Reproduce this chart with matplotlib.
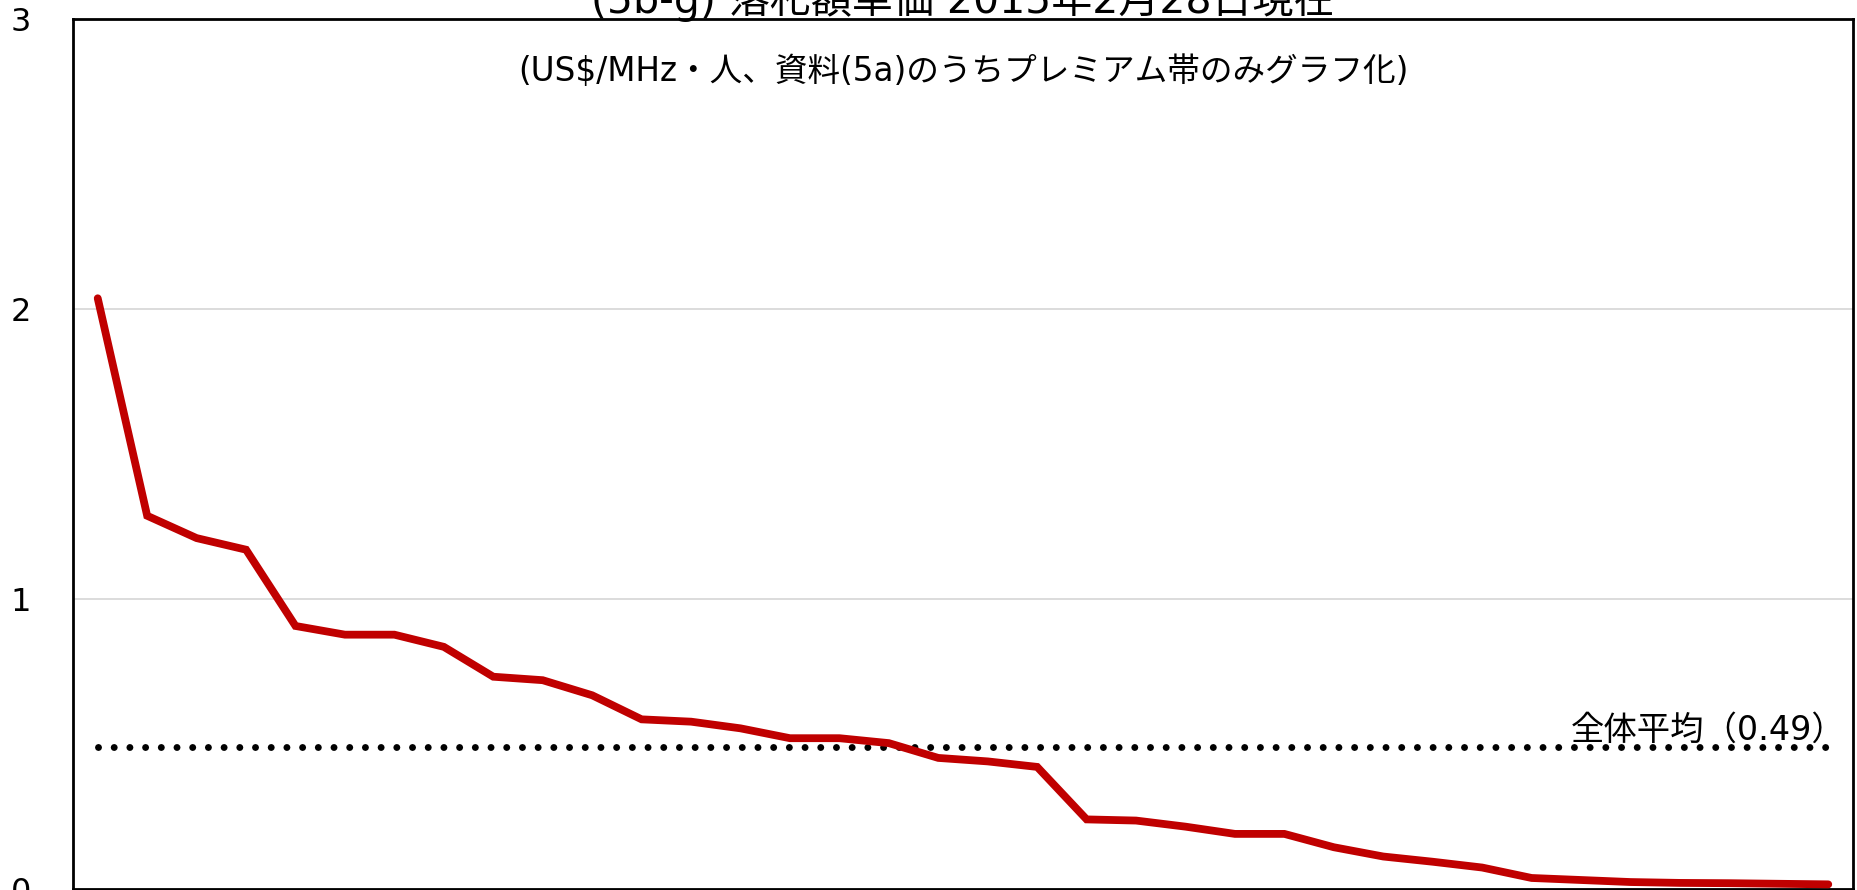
import matplotlib
matplotlib.use("Agg")
import matplotlib.pyplot as plt

# ---- data ----
ranks = list(range(1, 37))
unit_price = [2.037, 1.287, 1.210, 1.170, 0.907, 0.877, 0.877, 0.835, 0.732, 0.720,
              0.668, 0.585, 0.577, 0.554, 0.520, 0.520, 0.503, 0.452, 0.440, 0.421,
              0.240, 0.236, 0.215, 0.190, 0.190, 0.144, 0.112, 0.094, 0.074, 0.038,
              0.031, 0.024, 0.021, 0.020, 0.018, 0.016]
overall_avg = 0.49
y_ticks = [0, 1, 2, 3]
title = "(5b-g) 落札額単価 2015年2月28日現在"
subtitle = "(US$/MHz・人、資料(5a)のうちプレミアム帯のみグラフ化)"
avg_label = "全体平均（0.49）"

FAM = ['DejaVu Sans', 'Noto Sans CJK JP']
plt.rcParams['font.family'] = FAM

W, H = 1857, 890
fig = plt.figure(figsize=(W / 100, H / 100), dpi=100)
left, right, top, bottom = 73, 1853, 19, 889
ax = fig.add_axes([left / W, 1 - bottom / H, (right - left) / W, (bottom - top) / H])

x = list(range(len(unit_price)))
ax.plot(x, unit_price, color='#C00000', lw=5.6, solid_capstyle='round',
        solid_joinstyle='miter', zorder=3)
ax.plot([x[0], x[-1]], [overall_avg, overall_avg], color='black', lw=5.0,
        linestyle=(0, (0.001, 2.26)), dash_capstyle='round', zorder=2)

ax.set_xlim(-0.5, len(unit_price) - 0.5)
ax.set_ylim(0, 3)
ax.set_yticks(y_ticks)
ax.set_yticklabels([str(t) for t in y_ticks])
ax.set_xticks([])
ax.tick_params(axis='y', length=0, pad=30, labelsize=23)
ax.grid(axis='y', color='#d9d9d9', lw=1.3, zorder=0)
ax.set_axisbelow(True)
for s in ax.spines.values():
    s.set_color('black')
    s.set_linewidth(2.0)

ax.annotate(avg_label, xy=(35.35, overall_avg), xytext=(0, 7), textcoords='offset pixels',
            ha='right', va='baseline', fontsize=24, family=FAM, zorder=4)

cx = (left + right) / 2 / W
fig.text(cx, 1 - 13 / H, title, ha='center', va='baseline', fontsize=29.5, family=FAM)
fig.text(cx, 1 - 81 / H, subtitle, ha='center', va='baseline', fontsize=23.5, family=FAM)

fig.savefig("out.png", dpi=100)
